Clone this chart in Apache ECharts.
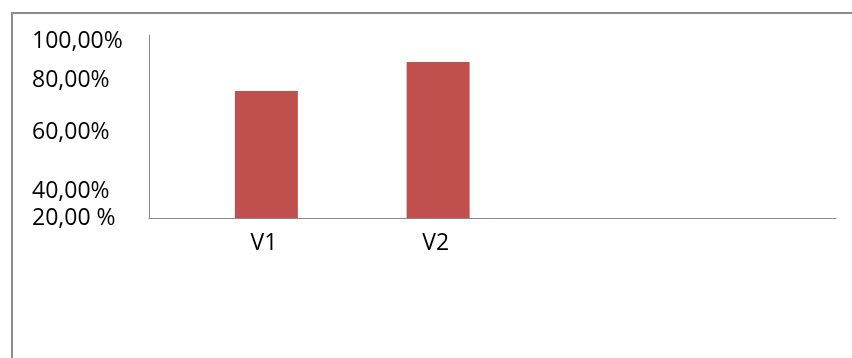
<!DOCTYPE html>
<html>
<head>
<meta charset="utf-8">
<script src="https://cdn.jsdelivr.net/npm/echarts@6/dist/echarts.min.js"></script>
<style>
  html, body { margin: 0; padding: 0; background: #ffffff; }
  #chart { width: 852px; height: 358px; }
</style>
</head>
<body>
<div id="chart"></div>
<script>
// Categories along the horizontal axis (two trailing empty slots keep the band width)
const categories = ['V1', 'V2', '', ''];
// Share per category, in percent
const shareValues = [75.5, 88.2, null, null];
// Empty companion series that takes the left half of each band
const spacerValues = [null, null, null, null];
// Text shown beside the vertical axis, top to bottom
const yTickLabels = ['100,00%', '80,00%', '60,00%', '40,00%', '20,00 %'];

// Where each of those labels sits along the vertical scale
const yLabelSpots = [97.0, 80.3, 57.2, 31.8, 20];

const chart = echarts.init(document.getElementById('chart'), null, { renderer: 'canvas' });

const labelFont = '"Open Sans", "Liberation Sans", sans-serif';

chart.setOption({
  animation: false,
  backgroundColor: '#ffffff',
  graphic: [{
    type: 'rect',
    shape: { x: 12, y: 13, width: 900, height: 400 },
    style: { fill: 'none', stroke: '#8c8c8c', lineWidth: 2 },
    silent: true
  }],
  grid: { left: 149, top: 35, right: 16, bottom: 140, containLabel: false },
  xAxis: {
    type: 'category',
    data: categories,
    boundaryGap: true,
    axisLine: { show: true, lineStyle: { color: '#8a8a8a', width: 1 } },
    axisTick: { show: false },
    axisLabel: {
      color: '#000000',
      fontSize: 23,
      fontFamily: labelFont,
      margin: 14,
      padding: [0, 0, 0, 58],
      interval: 0
    },
    splitLine: { show: false }
  },
  yAxis: {
    type: 'value',
    min: 20,
    max: 100,
    axisLine: { show: true, lineStyle: { color: '#8a8a8a', width: 1 } },
    axisTick: { show: false },
    splitLine: { show: false },
    axisLabel: {
      customValues: yLabelSpots,
      color: '#000000',
      fontSize: 23,
      fontFamily: labelFont,
      align: 'left',
      verticalAlign: 'top',
      lineHeight: 26,
      margin: 117,
      padding: [-13, 0, 0, 0],
      formatter: function (value) {
        const i = yLabelSpots.indexOf(value);
        return i >= 0 ? yTickLabels[i] : '';
      }
    }
  },
  series: [
    {
      type: 'bar',
      data: spacerValues,
      barWidth: 63,
      barGap: '0%',
      itemStyle: { color: '#4F81BD' }
    },
    {
      type: 'bar',
      data: shareValues,
      barWidth: 63,
      barGap: '0%',
      itemStyle: { color: '#C0504D' }
    }
  ]
});
</script>
</body>
</html>
